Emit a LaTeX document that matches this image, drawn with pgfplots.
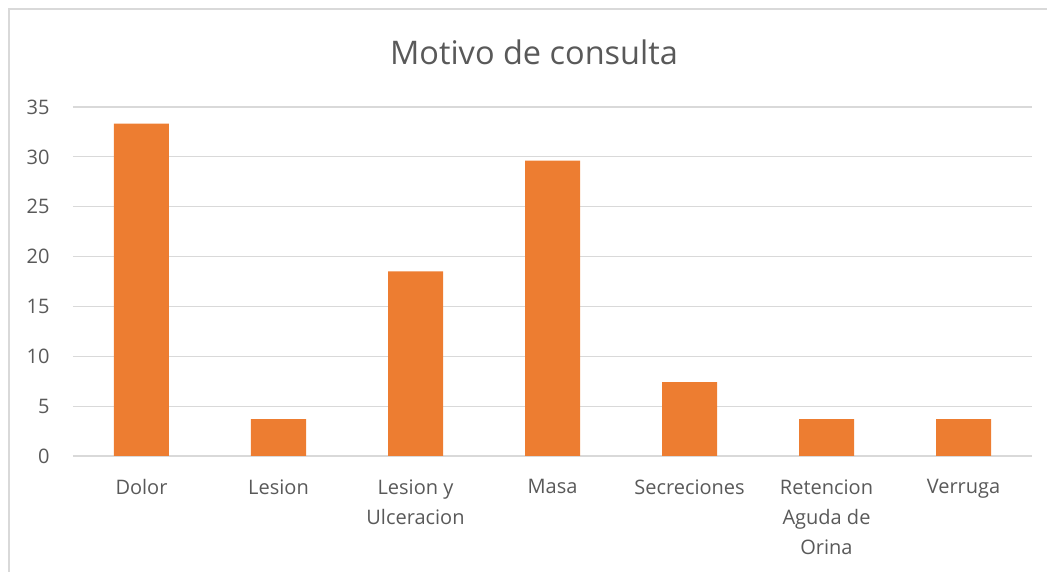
\documentclass[border=0pt]{standalone}
\usepackage{fontspec}
\setmainfont{Open Sans}
\usepackage{pgfplots}
\pgfplotsset{compat=1.18}
\definecolor{bar}{HTML}{ED7D31}
\definecolor{txt}{HTML}{595959}
\definecolor{grd}{HTML}{D9D9D9}
\begin{document}
\begin{tikzpicture}
\useasboundingbox (-73pt,-116pt) rectangle (974pt,456pt);
\draw[grd, line width=1.5pt] (-64pt,447pt) rectangle (986pt,-127pt);
\node[anchor=base, text=txt, font=\fontsize{32.5}{38}\selectfont] at (461pt,391pt) {Motivo de consulta};
\begin{axis}[
  at={(0pt,0pt)}, anchor=south west,
  scale only axis, width=959pt, height=349pt,
  xmin=-0.5, xmax=6.5, ymin=0, ymax=35,
  ytick={0,5,...,35},
  xtick={0,...,6},
  xticklabels={Dolor, Lesion, {Lesion y\\Ulceracion}, Masa, Secreciones, {Retencion\\Aguda de\\Orina}, Verruga},
  axis x line*=bottom, axis y line*=left,
  x axis line style={grd, line width=1.2pt, -},
  y axis line style={draw=none},
  major tick length=0pt,
  ymajorgrids, grid style={grd, line width=1.2pt},
  ticklabel style={text=txt, font=\fontsize{20}{30}\selectfont},
  /pgf/number format/assume math mode=true,
  xticklabel style={align=center, anchor=north, yshift=-20pt},
  yticklabel style={anchor=east, xshift=-20pt},
  clip=false,
]
\addplot[ybar, bar width=55pt, fill=bar, draw=none] coordinates {
 (0,33.33) (1,3.70) (2,18.52) (3,29.63) (4,7.41) (5,3.70) (6,3.70)};
\end{axis}
\end{tikzpicture}
\end{document}
